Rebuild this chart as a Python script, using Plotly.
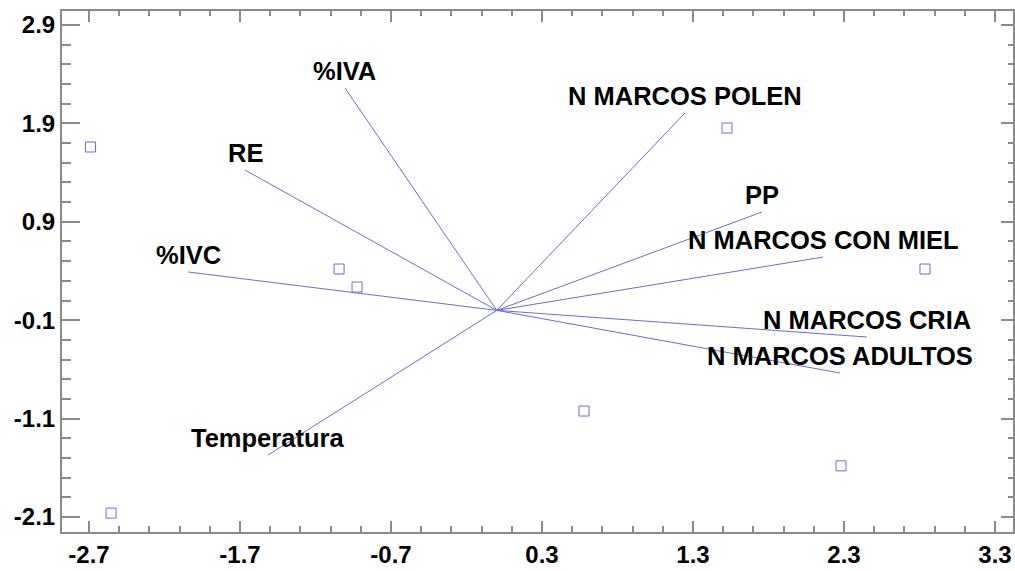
import plotly.graph_objects as go

# Variable vectors (loadings) ending points
var_names = ["%IVA", "RE", "%IVC", "Temperatura", "N MARCOS POLEN", "PP",
             "N MARCOS CON MIEL", "N MARCOS CRIA", "N MARCOS ADULTOS"]
var_x = [-1.005, -1.667, -2.044, -1.515, 1.247, 1.757, 2.161, 2.452, 2.274]
var_y = [2.26, 1.426, 0.39, -1.47, 2.006, 1.0, 0.542, -0.271, -0.637]

# Observation scores
obs_x = [-2.69, -2.554, -1.044, -0.925, 1.525, 2.836, 0.578, 2.28]
obs_y = [1.66, -2.06, 0.42, 0.237, 1.853, 0.42, -1.023, -1.58]

tick_vals_x = [-2.7, -1.7, -0.7, 0.3, 1.3, 2.3, 3.3]
tick_vals_y = [-2.1, -1.1, -0.1, 0.9, 1.9, 2.9]

x_range = [-2.879, 3.419]
y_range = [-2.252, 3.042]

line_col = "#6a6ad8"
axis_col = "#8a8a8a"
font_fam = "Arial, Liberation Sans, sans-serif"

lx, ly = [], []
for ex, ey in zip(var_x, var_y):
    lx += [0, ex, None]
    ly += [0, ey, None]

fig = go.Figure()
fig.add_trace(go.Scatter(x=lx, y=ly, mode="lines",
                         line=dict(color=line_col, width=1),
                         showlegend=False, hoverinfo="skip"))
fig.add_trace(go.Scatter(x=obs_x, y=obs_y, mode="markers",
                         marker=dict(symbol="square-open", size=10,
                                     color=line_col, line=dict(width=1)),
                         showlegend=False))
# dummy trace for the mirrored (top/right) axes
fig.add_trace(go.Scatter(x=[None], y=[None], xaxis="x2", yaxis="y2",
                         showlegend=False, hoverinfo="skip"))

for name, ex, ey in zip(var_names, var_x, var_y):
    fig.add_annotation(x=ex, y=ey, text=name, showarrow=False,
                       xanchor="center", yanchor="middle", yshift=17,
                       font=dict(family=font_fam, size=25.5, color="black",
                                 weight="bold"))

tickfont = dict(family=font_fam, size=24, color="black", weight="bold")

fig.update_layout(
    width=1015, height=571,
    margin=dict(l=62, r=2, t=11, b=39),
    paper_bgcolor="white", plot_bgcolor="white",
    xaxis=dict(range=x_range, tickvals=tick_vals_x, automargin=False,
               ticktext=[f"{v:.1f}" for v in tick_vals_x],
               ticks="inside", ticklen=11, tickwidth=1.5, tickcolor=axis_col,
               minor=dict(tick0=-2.7, dtick=0.2, ticks="inside", ticklen=6,
                          tickcolor=axis_col, tickwidth=1.5),
               showline=True, linecolor=axis_col, linewidth=2,
               showgrid=False, zeroline=False, tickfont=tickfont),
    yaxis=dict(range=y_range, tickvals=tick_vals_y, automargin=False,
               ticktext=[f"{v:.1f}" for v in tick_vals_y],
               ticks="inside", ticklen=18, tickwidth=1.5, tickcolor=axis_col,
               minor=dict(tick0=-2.1, dtick=0.2, ticks="inside", ticklen=9,
                          tickcolor=axis_col, tickwidth=1.5),
               showline=True, linecolor=axis_col, linewidth=2,
               showgrid=False, zeroline=False, tickfont=tickfont),
    xaxis2=dict(range=x_range, overlaying="x", side="top", anchor="y",
                tickvals=tick_vals_x, showticklabels=False, automargin=False,
                ticks="inside", ticklen=11, tickwidth=1.5, tickcolor=axis_col,
                minor=dict(tick0=-2.7, dtick=0.2, ticks="inside", ticklen=5,
                           tickcolor=axis_col, tickwidth=1.5),
                showline=True, linecolor=axis_col, linewidth=2,
                showgrid=False, zeroline=False),
    yaxis2=dict(range=y_range, overlaying="y", side="right", anchor="x",
                tickvals=tick_vals_y, showticklabels=False, automargin=False,
                ticks="inside", ticklen=12, tickwidth=1.5, tickcolor=axis_col,
                minor=dict(tick0=-2.1, dtick=0.2, ticks="inside", ticklen=5,
                           tickcolor=axis_col, tickwidth=1.5),
                showline=True, linecolor=axis_col, linewidth=2,
                showgrid=False, zeroline=False),
)

fig.write_html("out.html", config={"displayModeBar": False},
               post_script="document.body.style.margin='0';"
                           "document.body.style.padding='0';")
